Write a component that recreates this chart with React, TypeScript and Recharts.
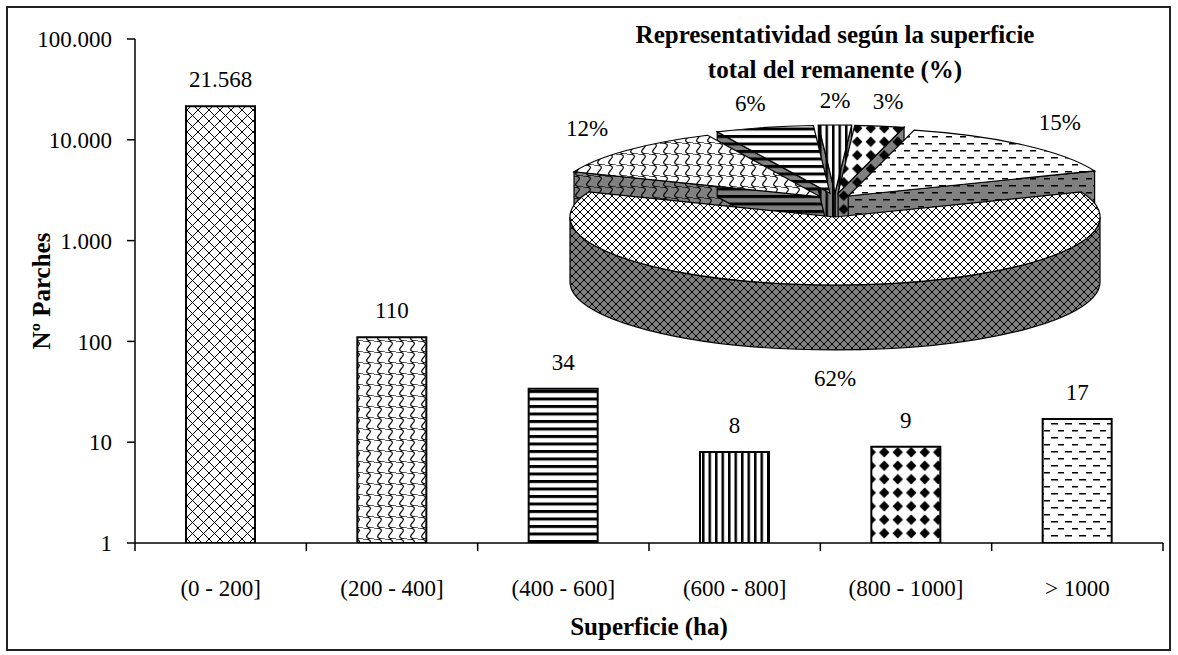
import React from 'react';
import { BarChart, Bar, XAxis, YAxis, LabelList, Cell, PieChart, Pie } from 'recharts';

// ---- data -------------------------------------------------------------
const categories = ['(0 - 200]', '(200 - 400]', '(400 - 600]', '(600 - 800]', '(800 - 1000]', '> 1000'];
const patchCounts = [21568, 110, 34, 8, 9, 17];
const areaShares = [62, 12, 6, 2, 3, 15];
const countTicks = [1, 10, 100, 1000, 10000, 100000];
const hatchNames = ['cross', 'scales', 'hlines', 'vlines', 'diamonds', 'dashes'];

// ---- layout -----------------------------------------------------------
const W = 1178;
const H = 655;
const FONT = '"Liberation Serif", "Times New Roman", serif';
const PLOT = { left: 135, top: 39, right: 1163, bottom: 543 };
const X_TICK_GAP = 37;
const PIE = { cx: 835, cy: 205, r: 265, tilt: 68 / 265, depth: 65, explode: 20, explodeTilt: 0.6 };
const DEG = Math.PI / 180;

const fmtThousands = (v: number | string) => String(v).replace(/\B(?=(\d{3})+(?!\d))/g, '.');

const barRows = categories.map((range, i) => ({ range, count: patchCounts[i], hatch: hatchNames[i] }));
const shareRows = categories.map((range, i) => ({ range, share: areaShares[i], hatch: hatchNames[i] }));
// the largest slice sits at the front, so it is painted last
const pieRows = [...shareRows.slice(1), shareRows[0]];
const shareTotal = areaShares.reduce((a, b) => a + b, 0);
const pieStart = 270 - (180 * areaShares[0]) / shareTotal;

// ---- hatch fills --------------------------------------------------------
function Tile({ id, kind, bg, cross }: { id: string; kind: string; bg: string; cross: number }) {
  if (kind === 'cross') {
    const s = cross;
    return (
      <pattern id={id} width={s} height={s} patternUnits="userSpaceOnUse">
        <rect width={s} height={s} fill={bg} />
        <path d={`M0,0L${s},${s}M${s},0L0,${s}`} stroke="#000" strokeWidth={1} />
      </pattern>
    );
  }
  if (kind === 'scales') {
    const s = 11;
    return (
      <pattern id={id} width={s} height={s} patternUnits="userSpaceOnUse">
        <rect width={s} height={s} fill={bg} />
        <path d={`M0,0 Q${s},0 ${s / 2},${s / 2} T${s},${s}`} stroke="#000" strokeWidth={1.2} fill="none" />
      </pattern>
    );
  }
  if (kind === 'hlines') {
    return (
      <pattern id={id} width={8} height={7.5} patternUnits="userSpaceOnUse">
        <rect width={8} height={7.5} fill={bg} />
        <rect width={8} height={3} fill="#000" />
      </pattern>
    );
  }
  if (kind === 'vlines') {
    return (
      <pattern id={id} width={6.5} height={8} patternUnits="userSpaceOnUse">
        <rect width={6.5} height={8} fill={bg} />
        <rect width={2.5} height={8} fill="#000" />
      </pattern>
    );
  }
  if (kind === 'diamonds') {
    const s = 13.5;
    const h = s / 2;
    const k = 5.2;
    return (
      <pattern id={id} width={s} height={s} patternUnits="userSpaceOnUse">
        <rect width={s} height={s} fill={bg} />
        <polygon points={`${h},${h - k} ${h + k},${h} ${h},${h + k} ${h - k},${h}`} fill="#000" />
      </pattern>
    );
  }
  // dashes
  const s = 14;
  return (
    <pattern id={id} width={s} height={s} patternUnits="userSpaceOnUse">
      <rect width={s} height={s} fill={bg} />
      <rect x={1} y={3} width={7} height={1.5} fill="#000" />
      <rect x={8} y={10} width={7} height={1.5} fill="#000" />
    </pattern>
  );
}

function HatchDefs() {
  return (
    <svg width={0} height={0} style={{ position: 'absolute' }}>
      <defs>
        {hatchNames.map((k) => (
          <Tile key={`bar-${k}`} id={`bar-${k}`} kind={k} bg="#fff" cross={11} />
        ))}
        {hatchNames.map((k) => (
          <Tile key={`pie-${k}`} id={`pie-${k}`} kind={k} bg="#fff" cross={8} />
        ))}
        {hatchNames.map((k) => (
          <Tile key={`wall-${k}`} id={`wall-${k}`} kind={k} bg="#808080" cross={8} />
        ))}
      </defs>
    </svg>
  );
}

// ---- axis pieces --------------------------------------------------------
function CategoryTick(props: any) {
  const { x, y, payload, index, visibleTicksCount } = props;
  const band = (PLOT.right - PLOT.left) / categories.length;
  const half = typeof payload?.offset === 'number' && payload.offset > 0 ? payload.offset : band / 2;
  const axisY = y - X_TICK_GAP;
  const marks = [x - half];
  if (index === visibleTicksCount - 1) marks.push(x + half);
  return (
    <g>
      {marks.map((mx) => (
        <line key={mx} x1={mx} x2={mx} y1={axisY} y2={axisY + 8} stroke="#000" strokeWidth={1.5} />
      ))}
      <text x={x} y={y} dy="0.71em" textAnchor="middle" fontSize={23} fontFamily={FONT} fill="#000">
        {payload.value}
      </text>
    </g>
  );
}

function XTitle(props: any) {
  const vb = props.viewBox || {};
  const x = (vb.x ?? PLOT.left) + (vb.width ?? PLOT.right - PLOT.left) / 2;
  const y = (vb.y ?? PLOT.bottom) + 92;
  return (
    <text x={x} y={y} textAnchor="middle" fontSize={25} fontWeight="bold" fontFamily={FONT} fill="#000">
      Superficie (ha)
    </text>
  );
}

function YTitle(props: any) {
  const vb = props.viewBox || {};
  const x = (vb.x ?? 0) + 50;
  const y = (vb.y ?? PLOT.top) + (vb.height ?? PLOT.bottom - PLOT.top) / 2;
  return (
    <text
      x={x}
      y={y}
      transform={`rotate(-90 ${x} ${y})`}
      textAnchor="middle"
      fontSize={25}
      fontWeight="bold"
      fontFamily={FONT}
      fill="#000"
    >
      Nº Parches
    </text>
  );
}

// ---- 3-D pie slice ------------------------------------------------------
function sliceGeometry(p: any) {
  const { cx, cy, outerRadius, startAngle, endAngle } = p;
  const a0 = Math.min(startAngle, endAngle);
  const a1 = Math.max(startAngle, endAngle);
  const mid = (a0 + a1) / 2;
  const r = outerRadius;
  const ry = r * PIE.tilt;
  const d = PIE.depth;
  const ox = cx + PIE.explode * Math.cos(mid * DEG);
  const oy = cy - PIE.explode * PIE.explodeTilt * Math.sin(mid * DEG);
  const pt = (a: number, dz = 0) => `${ox + r * Math.cos(a * DEG)},${oy - ry * Math.sin(a * DEG) + dz}`;
  const arc = (a: number, sweep: number, large: number, dz = 0) => `A${r},${ry} 0 ${large} ${sweep} ${pt(a, dz)}`;
  return { cx, cy, a0, a1, mid, r, ry, d, ox, oy, pt, arc };
}

// side faces (cut faces and the curved rim) that face the viewer
function renderWalls(p: any) {
  const { a0, a1, d, ox, oy, pt, arc } = sliceGeometry(p);
  const radial = (a: number) => `M${ox},${oy} L${pt(a)} L${pt(a, d)} L${ox},${oy + d} Z`;
  const walls: string[] = [];
  if (Math.cos(a0 * DEG) > 0) walls.push(radial(a0));
  if (Math.cos(a1 * DEG) < 0) walls.push(radial(a1));
  for (let n = Math.floor(a0 / 360) - 1; n <= Math.ceil(a1 / 360); n++) {
    const lo = Math.max(a0, 180 + 360 * n);
    const hi = Math.min(a1, 360 + 360 * n);
    if (hi > lo) walls.push(`M${pt(lo)} ${arc(hi, 0, 0)} L${pt(hi, d)} ${arc(lo, 1, 0, d)} Z`);
  }
  return (
    <g>
      {walls.map((w, i) => (
        <path key={i} d={w} fill={`url(#wall-${p.payload.hatch})`} stroke="#000" strokeWidth={1.2} />
      ))}
    </g>
  );
}

// top faces with the percentage beside each slice
function renderTops(p: any) {
  const { cx, cy, a0, a1, mid, r, ry, d, ox, oy, pt, arc } = sliceGeometry(p);
  const top = `M${ox},${oy} L${pt(a0)} ${arc(a1, 0, a1 - a0 > 180 ? 1 : 0)} Z`;
  const s = Math.sin(mid * DEG);
  const lx = cx + (r + 75) * Math.cos(mid * DEG);
  const ly = cy - 16 - (ry + 21) * s + (s < 0 ? d + 35 : 0);
  return (
    <g>
      <path d={top} fill={`url(#pie-${p.payload.hatch})`} stroke="#000" strokeWidth={1.2} />
      <text x={lx} y={ly} dy="0.35em" textAnchor="middle" fontSize={23} fontFamily={FONT} fill="#000">
        {`${p.payload.share}%`}
      </text>
    </g>
  );
}

const pieLayer = {
  data: pieRows,
  dataKey: 'share',
  nameKey: 'range',
  cx: PIE.cx,
  cy: PIE.cy,
  innerRadius: 0,
  outerRadius: PIE.r,
  startAngle: pieStart,
  endAngle: pieStart - 360,
  fill: 'none',
  stroke: 'none',
  isAnimationActive: false,
  labelLine: false,
};

export default function App() {
  return (
    <div style={{ position: 'absolute', left: 0, top: 0, width: W, height: H, background: '#fff' }}>
      <HatchDefs />
      <div style={{ position: 'absolute', left: 0, top: 0 }}>
        <BarChart
          width={W}
          height={H}
          data={barRows}
          margin={{ top: PLOT.top, right: W - PLOT.right, bottom: 0, left: 0 }}
        >
          <XAxis
            dataKey="range"
            height={H - PLOT.bottom}
            interval={0}
            tickLine={false}
            tickSize={0}
            tickMargin={X_TICK_GAP}
            axisLine={{ stroke: '#000', strokeWidth: 1.5 }}
            tick={(props: any) => <CategoryTick {...props} />}
            label={<XTitle />}
          />
          <YAxis
            type="number"
            scale="log"
            domain={[1, 100000]}
            ticks={countTicks}
            allowDataOverflow
            interval={0}
            width={PLOT.left}
            tickSize={8}
            tickMargin={15}
            tickFormatter={fmtThousands}
            tick={{ fill: '#000', fontSize: 23, fontFamily: FONT }}
            tickLine={{ stroke: '#000', strokeWidth: 1.5 }}
            axisLine={{ stroke: '#000', strokeWidth: 1.5 }}
            label={<YTitle />}
          />
          <Bar dataKey="count" barSize={69} stroke="#000" strokeWidth={2} isAnimationActive={false}>
            {barRows.map((row) => (
              <Cell key={row.range} fill={`url(#bar-${row.hatch})`} />
            ))}
            <LabelList
              dataKey="count"
              position="top"
              offset={19}
              formatter={(v: any) => fmtThousands(v)}
              fill="#000"
              fontSize={23}
              fontFamily={FONT}
            />
          </Bar>
        </BarChart>
      </div>
      <div style={{ position: 'absolute', left: 0, top: 0 }}>
        <PieChart width={W} height={H} margin={{ top: 0, right: 0, bottom: 0, left: 0 }}>
          <Pie {...(pieLayer as any)} label={renderWalls} />
        </PieChart>
      </div>
      <div style={{ position: 'absolute', left: 0, top: 0 }}>
        <PieChart width={W} height={H} margin={{ top: 0, right: 0, bottom: 0, left: 0 }}>
          <Pie {...(pieLayer as any)} label={renderTops} />
        </PieChart>
      </div>
      <svg width={W} height={H} style={{ position: 'absolute', left: 0, top: 0, pointerEvents: 'none' }}>
        <rect x={7} y={7} width={1163} height={643} fill="none" stroke="#222" strokeWidth={2} />
        <text x={PIE.cx} y={43} textAnchor="middle" fontSize={25} fontWeight="bold" fontFamily={FONT} fill="#000">
          Representatividad según la superficie
        </text>
        <text x={PIE.cx} y={78} textAnchor="middle" fontSize={25} fontWeight="bold" fontFamily={FONT} fill="#000">
          total del remanente (%)
        </text>
      </svg>
    </div>
  );
}
